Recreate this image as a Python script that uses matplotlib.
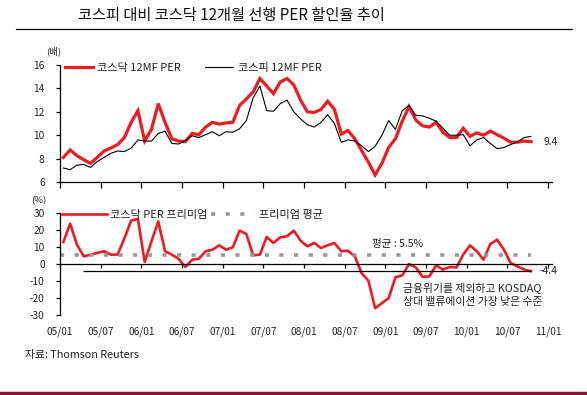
import numpy as np
import matplotlib
matplotlib.use('Agg')
import matplotlib.pyplot as plt
from matplotlib.lines import Line2D

plt.rcParams['font.family'] = ['Noto Sans CJK KR', 'DejaVu Sans']
plt.rcParams['axes.unicode_minus'] = False

# monthly data, 2005/01 ~ 2010/10
kosdaq_per = [8.1, 8.75, 8.25, 7.9, 7.6, 8.1, 8.65, 8.9, 9.2, 9.8,
              11.1, 12.1, 9.5, 10.5, 12.7, 11.1, 9.7, 9.5, 9.45, 10.15,
              10.05, 10.7, 11.1, 10.95, 11.05, 11.1, 12.55, 13.1, 13.7, 14.85,
              14.2, 13.55, 14.55, 14.85, 14.3, 13.0, 12.0, 11.95, 12.2, 12.9,
              12.2, 10.1, 10.4, 9.7, 8.7, 7.7, 6.6, 7.6, 8.95, 9.7,
              11.2, 12.45, 11.3, 10.8, 10.7, 11.1, 10.25, 9.8, 9.8, 10.6,
              9.9, 10.2, 10.0, 10.35, 10.05, 9.75, 9.4, 9.4, 9.5, 9.45]
kospi_per = [7.2, 7.05, 7.45, 7.5, 7.25, 7.75, 8.1, 8.45, 8.65, 8.6,
             8.9, 9.6, 9.5, 9.5, 10.15, 10.35, 9.3, 9.25, 9.55, 9.95,
             9.8, 10.05, 10.3, 9.95, 10.3, 10.25, 10.55, 11.25, 13.2, 14.2,
             12.1, 12.05, 12.7, 13.0, 12.0, 11.4, 10.9, 10.7, 11.1, 11.75,
             11.0, 9.4, 9.6, 9.5, 9.1, 8.6, 9.05, 10.0, 11.25, 10.5,
             12.1, 12.55, 11.7, 11.65, 11.45, 11.2, 10.6, 10.0, 10.0, 10.05,
             9.1, 9.6, 9.8, 9.3, 8.85, 8.95, 9.2, 9.45, 9.8, 9.9]
premium = [12.9, 23.7, 11.4, 4.5, 5.5, 6.5, 7.5, 5.5, 5.5, 15.0,
           25.5, 26.5, 1.2, 13.3, 25.0, 7.5, 5.5, 3.1, -1.8, 2.5,
           3.1, 7.5, 8.4, 11.0, 8.4, 9.8, 19.6, 17.6, 5.1, 5.5,
           15.9, 12.4, 15.7, 16.3, 19.6, 13.7, 10.4, 12.4, 9.4, 11.0,
           12.4, 7.5, 7.8, 4.5, -5.3, -9.8, -26.0, -23.0, -20.0, -7.8,
           -6.7, 0.0, -2.0, -7.6, -7.3, -0.8, -3.3, -1.8, -2.0, 5.5,
           11.0, 7.5, 2.5, 11.8, 14.3, 8.4, 0.6, -1.4, -3.3, -4.2]
premium_avg = 5.5
premium_now = -4.4
kosdaq_now = 9.4
tick_labels = ['05/01', '05/07', '06/01', '06/07', '07/01', '07/07', '08/01',
               '08/07', '09/01', '09/07', '10/01', '10/07', '11/01']

RED = '#ec1c24'
TXT = '#222222'
x = np.arange(len(kosdaq_per)) + 0.5
ticks = np.arange(0, 73, 6)

fig = plt.figure(figsize=(5.87, 3.95), dpi=100)

# title + rules
fig.text(0.133, 0.962, '코스피 대비 코스닥 12개월 선행 PER 할인율 추이', fontsize=11,
         color='#111111', va='center', ha='left')
fig.add_artist(Line2D([0.027, 0.975], [0.9266, 0.9266], color='black', lw=0.9))
fig.add_artist(Line2D([0, 1], [0.004, 0.004], color='#8a1538', lw=2.5))
fig.text(0.043, 0.101, '자료: Thomson Reuters', fontsize=7.8, color=TXT, va='center')

# ---- top chart
ax1 = fig.add_axes([0.1022, 0.5392, 0.8382, 0.2962])
ax1.plot(x, kosdaq_per, color=RED, lw=2.3, label='코스닥 12MF PER', solid_joinstyle='miter')
ax1.plot(x, kospi_per, color='black', lw=0.8, label='코스피 12MF PER')
ax1.set_xlim(0, 72.6)
ax1.set_ylim(6, 16)
ax1.set_yticks(range(6, 17, 2))
ax1.set_xticks(ticks)
ax1.set_xticklabels([])
for s in ['top', 'right']:
    ax1.spines[s].set_visible(False)
for s in ['left', 'bottom']:
    ax1.spines[s].set_linewidth(0.9)
ax1.tick_params(axis='y', direction='out', length=3, width=0.9, pad=8, labelsize=7.3, labelcolor=TXT)
ax1.tick_params(axis='x', direction='out', length=4, width=0.9)
ax1.text(-1.0, 17.15, '(배)', fontsize=6.8, color=TXT, ha='center', va='center')
ax1.text(x[-1] + 1.8, kosdaq_now, '9.4', fontsize=7.3, color=TXT, va='center')
ax1.legend(loc='lower left', bbox_to_anchor=(0.01, 0.93), ncol=2, frameon=False,
           fontsize=8, handlelength=2.5, handletextpad=0.4, columnspacing=2.2,
           borderaxespad=0, borderpad=0, labelcolor=TXT)

# ---- bottom chart
ax2 = fig.add_axes([0.1022, 0.2025, 0.8382, 0.2583])
ax2.plot(x, premium, color=RED, lw=1.9, label='코스닥 PER 프리미엄')
ax2.plot([x[0] - 0.5, x[-1]], [premium_avg, premium_avg], color='#999999', lw=2.6,
         dashes=(1.15, 2.9), label='프리미엄 평균')
ax2.hlines(premium_now, 3.4, x[-1], color='black', lw=0.9)
ax2.set_xlim(0, 72.6)
ax2.set_ylim(-30, 30)
ax2.set_yticks(range(-30, 31, 10))
ax2.set_xticks(ticks)
ax2.set_xticklabels([])
ax2.spines['bottom'].set_position(('data', 0))
for s in ['top', 'right']:
    ax2.spines[s].set_visible(False)
for s in ['left', 'bottom']:
    ax2.spines[s].set_linewidth(0.9)
ax2.tick_params(axis='y', direction='out', length=3, width=0.9, pad=8, labelsize=7.3, labelcolor=TXT)
ax2.tick_params(axis='x', direction='out', length=3, width=0.9)
sec = ax2.secondary_xaxis('bottom')
sec.set_xticks(ticks)
sec.set_xticklabels(tick_labels)
sec.spines['bottom'].set_visible(False)
sec.tick_params(length=0, pad=8, labelsize=7.3, labelcolor=TXT)
ax2.text(-3.2, 37.5, '(%)', fontsize=6.8, color=TXT, ha='center', va='center')
ax2.text(x[-1] + 1.2, premium_now, '-4.4', fontsize=7.3, color=TXT, va='center')
ax2.text(46.0, 12.0, '평균 : 5.5%', fontsize=7.6, color=TXT, va='center')
ax2.text(50.6, -18.0, '금융위기를 제외하고 KOSDAQ\n상대 밸류에이션 가장 낮은 수준', fontsize=7.8,
         color=TXT, va='center', linespacing=1.55)
ax2.legend(loc='lower left', bbox_to_anchor=(0.005, 0.93), ncol=2, frameon=False,
           fontsize=8, handlelength=4.0, handletextpad=0.3, columnspacing=0.3,
           borderaxespad=0, borderpad=0, labelcolor=TXT)

fig.savefig('out.png', dpi=100)
